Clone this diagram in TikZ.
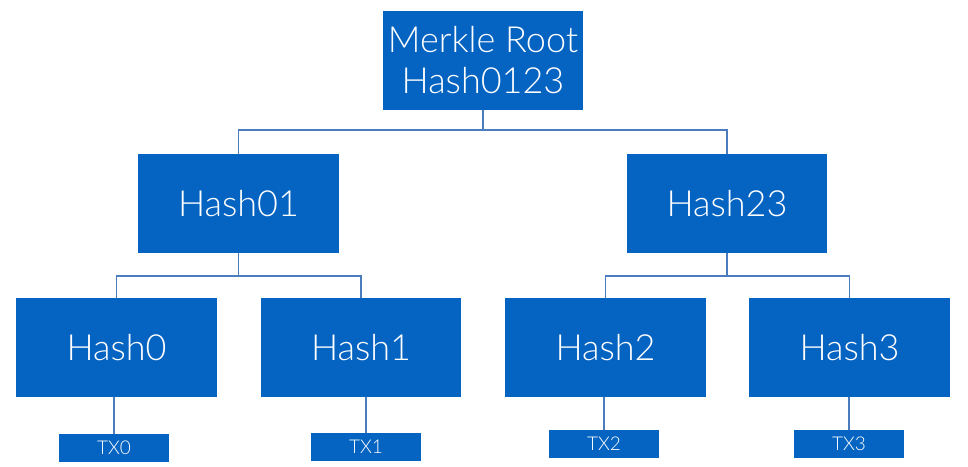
\documentclass[tikz,border=0pt]{standalone}
\usepackage{fontspec}
\setmainfont{Lato}[UprightFont={* Light}]
\definecolor{boxblue}{HTML}{0563C1}
\definecolor{lineblue}{HTML}{4A7DBE}
\begin{document}
\begin{tikzpicture}[x=1pt,y=-1pt,
  hbox/.style={rectangle,fill=boxblue,text=white,inner sep=0pt,font=\fontsize{36}{41}\selectfont,align=center},
  txbox/.style={rectangle,fill=boxblue,text=white,inner sep=0pt,minimum width=110pt,minimum height=28pt,font=\fontsize{19}{20}\selectfont},
  conn/.style={draw=lineblue,line width=1.4pt}]
\useasboundingbox[fill=white] (0,0) rectangle (968,466);
\node[hbox,minimum width=200pt,minimum height=99pt] (root) at (483,60.5) {Merkle Root\\Hash0123};
\node[hbox,minimum width=201pt,minimum height=99pt] (h01) at (238.5,203.5) {Hash01};
\node[hbox,minimum width=200pt,minimum height=99pt] (h23) at (727,203.5) {Hash23};
\node[hbox,minimum width=201pt,minimum height=99pt] (h0) at (116.5,347.5) {Hash0};
\node[hbox,minimum width=200pt,minimum height=99pt] (h1) at (361,347.5) {Hash1};
\node[hbox,minimum width=201pt,minimum height=99pt] (h2) at (605.5,347.5) {Hash2};
\node[hbox,minimum width=201pt,minimum height=99pt] (h3) at (849.5,347.5) {Hash3};
\node[txbox] (tx0) at (114,448) {TX0};
\node[txbox] (tx1) at (366,447) {TX1};
\node[txbox] (tx2) at (604,444) {TX2};
\node[txbox] (tx3) at (849,444) {TX3};
\coordinate (j0) at (483,130);
\coordinate (j1) at (238.5,276);
\coordinate (j2) at (727,276);
\draw[conn] (root.south) -- (j0);
\draw[conn] (j0) -| (h01.north);
\draw[conn] (j0) -| (h23.north);
\draw[conn] (h01.south) -- (j1);
\draw[conn] (j1) -| (h0.north);
\draw[conn] (j1) -| (h1.north);
\draw[conn] (h23.south) -- (j2);
\draw[conn] (j2) -| (h2.north);
\draw[conn] (j2) -| (h3.north);
\draw[conn] (h0.south -| tx0.north) -- (tx0.north);
\draw[conn] (h1.south -| tx1.north) -- (tx1.north);
\draw[conn] (h2.south -| tx2.north) -- (tx2.north);
\draw[conn] (h3.south -| tx3.north) -- (tx3.north);
\end{tikzpicture}
\end{document}
